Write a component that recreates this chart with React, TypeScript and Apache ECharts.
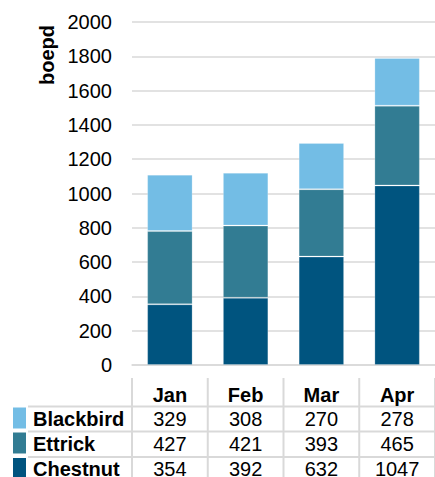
import React, { useEffect, useRef } from "react";
import * as echarts from "echarts";

const categories = ["Jan", "Feb", "Mar", "Apr"];
const blackbird = [329, 308, 270, 278];
const ettrick = [427, 421, 393, 465];
const chestnut = [354, 392, 632, 1047];
const yMin = 0;
const yMax = 2000;
const yInterval = 200;
const axisTitle = "boepd";

const COLORS: Record<string, string> = {
  Blackbird: "#73BDE5",
  Ettrick: "#327C93",
  Chestnut: "#00547F",
};

const tableRows = [
  { name: "Blackbird", values: blackbird },
  { name: "Ettrick", values: ettrick },
  { name: "Chestnut", values: chestnut },
];

const FONT = "'Liberation Sans', Arial, sans-serif";
const GRIDLINE = "#d9d9d9";

export default function App() {
  const ref = useRef<HTMLDivElement>(null);
  useEffect(() => {
    if (!ref.current) return;
    const chart = echarts.init(ref.current, undefined, { renderer: "svg" });
    const mkSeries = (name: string, data: number[]) => ({
      name,
      type: "bar",
      stack: "total",
      barWidth: "60%",
      data,
      itemStyle: {
        color: COLORS[name],
        borderColor: "rgba(255,255,255,0.22)",
        borderWidth: 1,
      },
    });
    chart.setOption({
      animation: false,
      textStyle: { fontFamily: FONT },
      grid: { left: 132, top: 22, width: 305, height: 343 },
      xAxis: {
        type: "category",
        data: categories,
        axisLine: { show: true, lineStyle: { color: GRIDLINE, width: 1.5 } },
        axisTick: { show: false },
        axisLabel: {
          margin: 20,
          fontSize: 20,
          fontWeight: "bold",
          color: "#000",
          fontFamily: FONT,
        },
      },
      yAxis: {
        type: "value",
        min: yMin,
        max: yMax,
        interval: yInterval,
        axisLine: { show: false },
        axisTick: { show: false },
        splitLine: { lineStyle: { color: GRIDLINE, width: 1.5 } },
        axisLabel: {
          margin: 20,
          fontSize: 20,
          color: "#000",
          fontFamily: FONT,
          formatter: (v: number) => String(v),
        },
      },
      series: [
        mkSeries("Chestnut", chestnut),
        mkSeries("Ettrick", ettrick),
        mkSeries("Blackbird", blackbird),
      ],
    });

    const cx = categories.map(
      (c) => chart.convertToPixel({ xAxisIndex: 0 }, c) as number
    );
    const band = cx[1] - cx[0];
    const elements: any[] = [];
    elements.push({
      type: "text",
      x: 47,
      y: 55,
      rotation: Math.PI / 2,
      style: {
        text: axisTitle,
        fontSize: 20,
        fontWeight: "bold",
        fontFamily: FONT,
        fill: "#000",
        align: "center",
        verticalAlign: "middle",
      },
    });
    const bounds = cx.map((x) => x - band / 2).concat([cx[cx.length - 1] + band / 2]);
    bounds.forEach((bx) => {
      elements.push({
        type: "line",
        shape: { x1: bx, y1: 378, x2: bx, y2: 477 },
        style: { stroke: GRIDLINE, lineWidth: 2 },
      });
    });
    const lineYs = [406.5, 431.5, 457];
    lineYs.forEach((ly) => {
      elements.push({
        type: "line",
        shape: { x1: 28, y1: ly, x2: 435, y2: ly },
        style: { stroke: GRIDLINE, lineWidth: 2 },
      });
    });
    tableRows.forEach((row, r) => {
      const top = lineYs[r];
      const mid = top + 12;
      elements.push({
        type: "rect",
        shape: { x: 13, y: top + 1, width: 13, height: 21 },
        style: { fill: COLORS[row.name] },
      });
      elements.push({
        type: "text",
        x: 33,
        y: mid,
        style: {
          text: row.name,
          fontSize: 20,
          fontWeight: "bold",
          fontFamily: FONT,
          fill: "#000",
          align: "left",
          verticalAlign: "middle",
        },
      });
      row.values.forEach((v, i) => {
        elements.push({
          type: "text",
          x: cx[i],
          y: mid,
          style: {
            text: String(v),
            fontSize: 20,
            fontFamily: FONT,
            fill: "#000",
            align: "center",
            verticalAlign: "middle",
          },
        });
      });
    });
    chart.setOption({ graphic: { elements } });
    return () => chart.dispose();
  }, []);
  return (
    <div
      ref={ref}
      style={{ position: "absolute", left: 0, top: 0, width: 435, height: 477 }}
    />
  );
}
